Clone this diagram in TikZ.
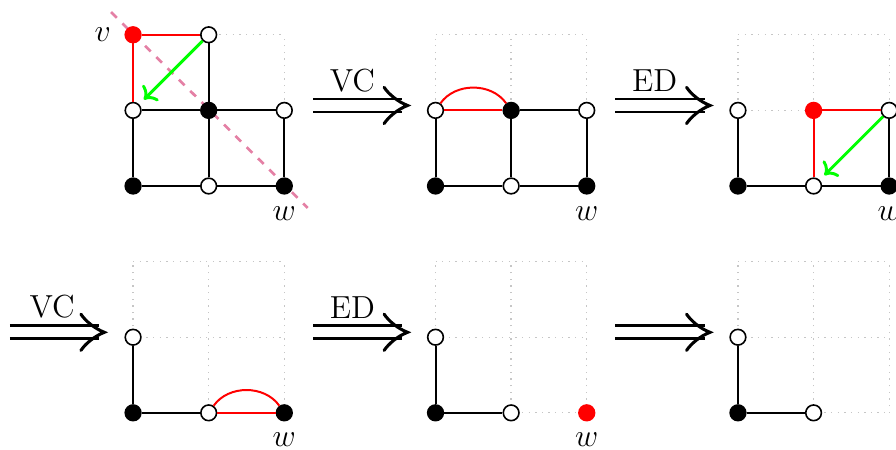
\documentclass[tikz,border=0pt]{standalone}
\usetikzlibrary{arrows.meta,calc}
\definecolor{pinkdash}{RGB}{228,128,165}
\tikzset{
  vtx/.style={circle, draw=black, line width=0.6pt, minimum size=5.9pt, inner sep=0pt},
  wvtx/.style={vtx, fill=white},
  bvtx/.style={vtx, fill=black},
  rvtx/.style={vtx, fill=red, draw=red},
  edge/.style={line width=0.75pt, black},
  redge/.style={line width=0.75pt, red},
  gridln/.style={dotted, gray!45, line width=0.5pt},
  diagcut/.style={dashed, pinkdash, line width=1pt},
  greenarr/.style={green, line width=1.1pt, ->, shorten >=2.5pt},
  lbl/.style={font=\large, inner sep=0pt},
  oplbl/.style={font=\large, inner sep=0pt},
  implarrow/.pic={
    \draw[line width=1pt] (0,0.086) -- (1.18,0.086) (0,-0.086) -- (1.18,-0.086);
    \draw[line width=1.15pt, line cap=round, line join=miter] (0.94,0.24) .. controls (1.0,0.15) and (1.12,0.05) .. (1.25,0) .. controls (1.12,-0.05) and (1.0,-0.15) .. (0.94,-0.24);
  }
}
\begin{document}
\begin{tikzpicture}
\useasboundingbox (-1.76,-3.49) rectangle (10.09,2.46);

% ---------- Panel 1 ----------
\begin{scope}[shift={(0,0)}]
  \draw[gridln] (0,0) grid (2,2);
  \draw[diagcut] (-0.29,2.30) -- (2.31,-0.29);
  \node[rvtx] (p1-02) at (0,2) {};
  \node[wvtx] (p1-12) at (1,2) {};
  \node[wvtx] (p1-01) at (0,1) {};
  \node[bvtx] (p1-11) at (1,1) {};
  \node[wvtx] (p1-21) at (2,1) {};
  \node[bvtx] (p1-00) at (0,0) {};
  \node[wvtx] (p1-10) at (1,0) {};
  \node[bvtx] (p1-20) at (2,0) {};
  \draw[redge] (p1-02) -- (p1-12);
  \draw[redge] (p1-02) -- (p1-01);
  \draw[edge] (p1-12) -- (p1-11);
  \draw[edge] (p1-01) -- (p1-11);
  \draw[edge] (p1-11) -- (p1-21);
  \draw[edge] (p1-01) -- (p1-00);
  \draw[edge] (p1-11) -- (p1-10);
  \draw[edge] (p1-21) -- (p1-20);
  \draw[edge] (p1-00) -- (p1-10);
  \draw[edge] (p1-10) -- (p1-20);
  \draw[greenarr] (p1-12) -- (p1-01);
  \node[lbl] (p1-v) at (-0.4,2) {$v$};
  \node[lbl] (p1-w) at (2,-0.36) {$w$};
\end{scope}

% ---------- Panel 2 ----------
\begin{scope}[shift={(4,0)}]
  \draw[gridln] (0,0) grid (2,2);
  \node[wvtx] (p2-01) at (0,1) {};
  \node[bvtx] (p2-11) at (1,1) {};
  \node[wvtx] (p2-21) at (2,1) {};
  \node[bvtx] (p2-00) at (0,0) {};
  \node[wvtx] (p2-10) at (1,0) {};
  \node[bvtx] (p2-20) at (2,0) {};
  \draw[redge] (p2-01) -- (p2-11);
  \draw[redge] (p2-01) to[bend left=55] (p2-11);
  \draw[edge] (p2-11) -- (p2-21);
  \draw[edge] (p2-01) -- (p2-00);
  \draw[edge] (p2-11) -- (p2-10);
  \draw[edge] (p2-21) -- (p2-20);
  \draw[edge] (p2-00) -- (p2-10);
  \draw[edge] (p2-10) -- (p2-20);
  \node[lbl] (p2-w) at (2,-0.36) {$w$};
\end{scope}

% ---------- Panel 3 ----------
\begin{scope}[shift={(8,0)}]
  \draw[gridln] (0,0) grid (2,2);
  \node[wvtx] (p3-01) at (0,1) {};
  \node[rvtx] (p3-11) at (1,1) {};
  \node[wvtx] (p3-21) at (2,1) {};
  \node[bvtx] (p3-00) at (0,0) {};
  \node[wvtx] (p3-10) at (1,0) {};
  \node[bvtx] (p3-20) at (2,0) {};
  \draw[edge] (p3-01) -- (p3-00);
  \draw[redge] (p3-11) -- (p3-21);
  \draw[redge] (p3-11) -- (p3-10);
  \draw[edge] (p3-21) -- (p3-20);
  \draw[edge] (p3-00) -- (p3-10);
  \draw[edge] (p3-10) -- (p3-20);
  \draw[greenarr] (p3-21) -- (p3-10);
  \node[lbl] (p3-w) at (2,-0.36) {$w$};
\end{scope}

% ---------- Panel 4 ----------
\begin{scope}[shift={(0,-3)}]
  \draw[gridln] (0,0) grid (2,2);
  \node[wvtx] (p4-01) at (0,1) {};
  \node[bvtx] (p4-00) at (0,0) {};
  \node[wvtx] (p4-10) at (1,0) {};
  \node[bvtx] (p4-20) at (2,0) {};
  \draw[edge] (p4-01) -- (p4-00);
  \draw[edge] (p4-00) -- (p4-10);
  \draw[redge] (p4-10) -- (p4-20);
  \draw[redge] (p4-10) to[bend left=55] (p4-20);
  \node[lbl] (p4-w) at (2,-0.36) {$w$};
\end{scope}

% ---------- Panel 5 ----------
\begin{scope}[shift={(4,-3)}]
  \draw[gridln] (0,0) grid (2,2);
  \node[wvtx] (p5-01) at (0,1) {};
  \node[bvtx] (p5-00) at (0,0) {};
  \node[wvtx] (p5-10) at (1,0) {};
  \node[rvtx] (p5-20) at (2,0) {};
  \draw[edge] (p5-01) -- (p5-00);
  \draw[edge] (p5-00) -- (p5-10);
  \node[lbl] (p5-w) at (2,-0.36) {$w$};
\end{scope}

% ---------- Panel 6 ----------
\begin{scope}[shift={(8,-3)}]
  \draw[gridln] (0,0) grid (2,2);
  \node[wvtx] (p6-01) at (0,1) {};
  \node[bvtx] (p6-00) at (0,0) {};
  \node[wvtx] (p6-10) at (1,0) {};
  \draw[edge] (p6-01) -- (p6-00);
  \draw[edge] (p6-00) -- (p6-10);
\end{scope}

% ---------- Transition arrows ----------
\coordinate (t1) at (2.38,1.065);
\coordinate (t2) at (6.38,1.065);
\coordinate (t3) at (-1.63,-1.935);
\coordinate (t4) at (2.38,-1.935);
\coordinate (t5) at (6.38,-1.935);
\pic at (t1) {implarrow};
\pic at (t2) {implarrow};
\pic at (t3) {implarrow};
\pic at (t4) {implarrow};
\pic at (t5) {implarrow};
\node[oplbl] (op1) at (2.90,1.39) {VC};
\node[oplbl] (op2) at (6.90,1.40) {ED};
\node[oplbl] (op3) at (-1.07,-1.60) {VC};
\node[oplbl] (op4) at (2.90,-1.61) {ED};
\end{tikzpicture}
\end{document}
